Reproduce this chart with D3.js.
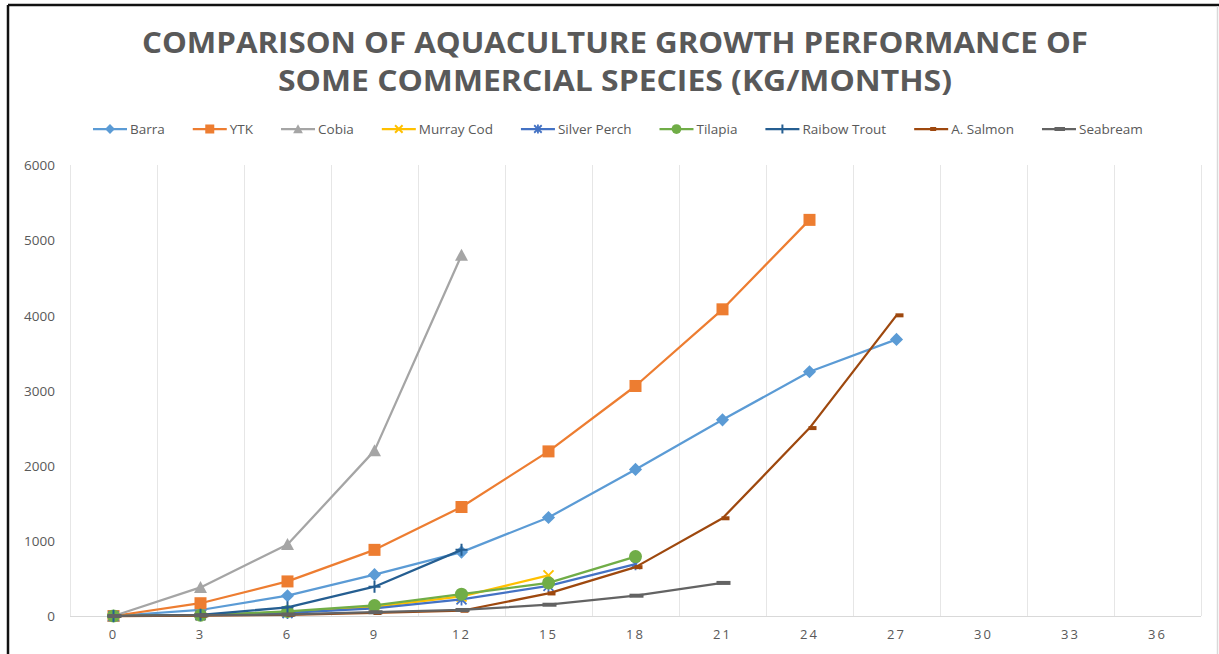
<!DOCTYPE html>
<html><head><meta charset="utf-8">
<script src="https://cdn.jsdelivr.net/npm/d3@7"></script>
<style>
html,body{margin:0;padding:0;background:#fff;}
svg{display:block;font-family:"Open Sans",sans-serif;}
</style></head>
<body><svg id="c" width="1219" height="654"></svg>
<script>
const months = [0,3,6,9,12,15,18,21,24,27,30,33,36];
const yTicks = [0,1000,2000,3000,4000,5000,6000];
const seriesNames = ["Barra","YTK","Cobia","Murray Cod","Silver Perch","Tilapia","Raibow Trout","A. Salmon","Seabream"];
const barra       = [0,80,270,550,850,1310,1950,2610,3250,3680];
const ytk         = [0,170,460,880,1450,2190,3060,4080,5270];
const cobia       = [0,380,950,2200,4800];
const murrayCod   = [0,10,50,120,260,540];
const silverPerch = [0,10,40,100,220,400,690];
const tilapia     = [0,10,60,140,290,440,790];
const rainbowTrout= [0,15,115,390,880];
const aSalmon     = [0,5,15,40,70,300,650,1300,2500,4000];
const seabream    = [0,10,20,50,80,150,270,440];
const titleLines = ["COMPARISON OF AQUACULTURE GROWTH PERFORMANCE OF","SOME COMMERCIAL SPECIES (KG/MONTHS)"];

const seriesValues = [barra,ytk,cobia,murrayCod,silverPerch,tilapia,rainbowTrout,aSalmon,seabream];
const colors = ["#5B9BD5","#ED7D31","#A5A5A5","#FFC000","#4472C4","#70AD47","#255E91","#9E480E","#636363"];
const markers = ["diamond","square","triangle","x","star","circle","plus","dash","longdash"];

const svg = d3.select("#c");
const W=1219,H=654;
const pLeft=70,pRight=1201,pTop=165,pBottom=616;

// outer border
svg.append("line").attr("x1",8).attr("x2",W).attr("y1",5).attr("y2",5).attr("stroke","#111").attr("stroke-width",2.5);
svg.append("line").attr("x1",8).attr("x2",8).attr("y1",5).attr("y2",H).attr("stroke","#111").attr("stroke-width",2.5);
svg.append("line").attr("x1",1217.5).attr("x2",1217.5).attr("y1",6).attr("y2",H).attr("stroke","#d9d9d9").attr("stroke-width",1.5);

// title
const titleW=[946,674];
titleLines.forEach((t,i)=>{
  svg.append("text").attr("x",615).attr("y",53+i*38).attr("text-anchor","middle")
    .attr("font-size",29).attr("font-weight",700).attr("fill","#595959")
    .attr("textLength",titleW[i]).attr("lengthAdjust","spacingAndGlyphs").text(t);
});

const x = d3.scaleBand().domain(months).range([pLeft,pRight]);
const y = d3.scaleLinear().domain([0,6000]).range([pBottom,pTop]);

// vertical gridlines at band edges
const edges = months.map(m=>x(m)).concat([pRight]);
svg.append("g").selectAll("line").data(edges).join("line")
  .attr("x1",d=>d+0.5).attr("x2",d=>d+0.5).attr("y1",pTop).attr("y2",pBottom)
  .attr("stroke","#e6e6e6").attr("stroke-width",1);
svg.append("line").attr("x1",pLeft).attr("x2",pRight).attr("y1",pBottom+0.5).attr("y2",pBottom+0.5)
  .attr("stroke","#d9d9d9").attr("stroke-width",1);

// y axis labels
const yAxis = d3.axisLeft(y).tickValues(yTicks).tickSize(0).tickPadding(0).tickFormat(d3.format("d"));
const gy = svg.append("g").attr("transform",`translate(55,0)`).call(yAxis);
gy.select(".domain").remove();
gy.selectAll("text").attr("font-size",13.5).attr("fill","#595959").attr("font-family","'Open Sans',sans-serif").attr("dy","0.35em");

// x axis labels
const xAxis = d3.axisBottom(x).tickSize(0).tickPadding(0);
const gx = svg.append("g").attr("transform",`translate(0,${pBottom+14})`).call(xAxis);
gx.select(".domain").remove();
gx.selectAll("text").attr("font-size",13).attr("fill","#595959").attr("letter-spacing","2px").attr("font-family","'Open Sans',sans-serif").attr("dy","0.71em");

function drawMarker(g,type,color,cx,cy,scale){
  const s=scale||1;
  switch(type){
    case "diamond": g.append("path").attr("d",d3.symbol(d3.symbolDiamond2,110*s*s)()).attr("transform",`translate(${cx},${cy})`).attr("fill",color);break;
    case "square": g.append("rect").attr("x",cx-6*s).attr("y",cy-6*s).attr("width",12*s).attr("height",12*s).attr("fill",color);break;
    case "triangle": g.append("path").attr("d",`M${cx},${cy-6.5*s}L${cx+6.5*s},${cy+5.5*s}L${cx-6.5*s},${cy+5.5*s}Z`).attr("fill",color);break;
    case "circle": g.append("circle").attr("cx",cx).attr("cy",cy).attr("r",6.5*s).attr("fill",color);break;
    case "x": g.append("path").attr("d",`M${cx-5*s},${cy-5*s}L${cx+5*s},${cy+5*s}M${cx+5*s},${cy-5*s}L${cx-5*s},${cy+5*s}`).attr("stroke",color).attr("stroke-width",2);break;
    case "plus": g.append("path").attr("d",`M${cx-6*s},${cy}L${cx+6*s},${cy}M${cx},${cy-6*s}L${cx},${cy+6*s}`).attr("stroke",color).attr("stroke-width",2);break;
    case "star": g.append("path").attr("d",`M${cx-5*s},${cy-5*s}L${cx+5*s},${cy+5*s}M${cx+5*s},${cy-5*s}L${cx-5*s},${cy+5*s}M${cx},${cy-6*s}L${cx},${cy+6*s}`).attr("stroke",color).attr("stroke-width",1.8);break;
    case "dash": g.append("rect").attr("x",cx-1).attr("y",cy-2).attr("width",8*s).attr("height",4).attr("fill",color);break;
    case "longdash": g.append("rect").attr("x",cx-6*s).attr("y",cy-2).attr("width",14*s).attr("height",4).attr("fill",color);break;
  }
}

const line = d3.line().x((d,i)=>x(months[i])+x.bandwidth()/2).y(d=>y(d));
const plot = svg.append("g");
seriesValues.forEach((vals,si)=>{
  const g = plot.append("g");
  g.append("path").datum(vals).attr("d",line).attr("fill","none").attr("stroke",colors[si]).attr("stroke-width",2.25).attr("stroke-linejoin","round");
  vals.forEach((v,i)=>drawMarker(g,markers[si],colors[si],x(months[i])+x.bandwidth()/2,y(v)));
});

// legend
const lg = svg.append("g").attr("transform","translate(0,129)");
let cx=93;
seriesNames.forEach((n,i)=>{
  const it = lg.append("g");
  it.append("line").attr("x1",cx).attr("x2",cx+34).attr("y1",0).attr("y2",0).attr("stroke",colors[i]).attr("stroke-width",2.25);
  drawMarker(it,markers[i],colors[i],cx+17,0,0.75);
  const t = it.append("text").attr("x",cx+37).attr("y",0).attr("dy","0.35em").attr("font-size",13.5).attr("fill","#595959").text(n);
  const tw = t.node().getComputedTextLength();
  cx += 37 + tw + 28;
});
</script></body></html>
